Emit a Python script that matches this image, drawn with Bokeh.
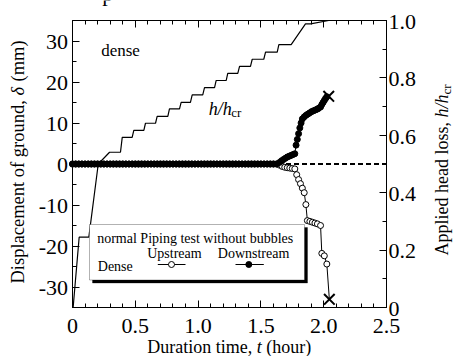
from math import pi

from bokeh.embed import file_html
from bokeh.models import (BoxAnnotation, CustomJSTickFormatter, Label, LinearAxis,
                          Range1d, SingleIntervalTicker)
from bokeh.plotting import figure
from bokeh.resources import INLINE

SERIF = "'Liberation Serif', 'Times New Roman', serif"

# ---- data -------------------------------------------------------------
# Logging times (hour) while the ground has not moved yet
still_t = [0.0, 0.025, 0.05, 0.075, 0.1, 0.125, 0.15, 0.175, 0.2, 0.225,
           0.25, 0.275, 0.3, 0.325, 0.35, 0.375, 0.4, 0.425, 0.45, 0.475,
           0.5, 0.525, 0.55, 0.575, 0.6, 0.625, 0.65, 0.675, 0.7, 0.725,
           0.75, 0.775, 0.8, 0.825, 0.85, 0.875, 0.9, 0.925, 0.95, 0.975,
           1.0, 1.025, 1.05, 1.075, 1.1, 1.125, 1.15, 1.175, 1.2, 1.225,
           1.25, 1.275, 1.3, 1.325, 1.35, 1.375, 1.4, 1.425, 1.45, 1.475,
           1.5, 1.525, 1.55, 1.575, 1.6, 1.625]
still_d = [0.0] * len(still_t)

# Upstream ground displacement (mm) once it starts to settle
up_tail_t = [1.65, 1.67, 1.69, 1.71, 1.73, 1.75, 1.77, 1.785, 1.80, 1.815,
             1.83, 1.845, 1.858, 1.87, 1.89, 1.91, 1.93, 1.95, 1.975, 1.985,
             2.005, 2.025]
up_tail_d = [-0.3, -0.6, -0.8, -0.9, -1.0, -1.1, -1.2, -2.6, -3.8, -4.8,
             -5.9, -7.0, -9.9, -13.8, -14.0, -14.2, -14.4, -14.6, -15.0, -21.8,
             -22.4, -24.4]
up_fail_t, up_fail_d = 2.045, -33.0

# Downstream ground displacement (mm) once it starts to heave
dn_tail_t = [1.65, 1.665, 1.68, 1.695, 1.71, 1.725, 1.74, 1.755, 1.77, 1.78,
             1.79, 1.80, 1.81, 1.82, 1.83, 1.845, 1.86, 1.875, 1.89, 1.905,
             1.92, 1.935, 1.95, 1.96, 1.975, 1.985, 1.995, 2.005, 2.015, 2.025]
dn_tail_d = [0.4, 0.8, 1.1, 1.4, 1.7, 1.9, 2.1, 2.3, 2.5, 4.6,
             6.0, 7.4, 8.8, 10.0, 11.0, 11.5, 11.9, 12.2, 12.5, 12.8,
             13.0, 13.2, 13.4, 13.6, 13.9, 14.5, 15.0, 15.5, 16.0, 16.4]
dn_fail_t, dn_fail_d = 2.04, 16.5

up_t = still_t + up_tail_t
up_d = still_d + up_tail_d
dn_t = still_t + dn_tail_t
dn_d = still_d + dn_tail_d

# Applied head loss ratio h/h_cr (right axis)
head_t = [0.005, 0.053, 0.13, 0.205, 0.295, 0.382, 0.396, 0.475, 0.488, 0.568,
          0.581, 0.661, 0.674, 0.759, 0.772, 0.852, 0.865, 0.939, 0.953, 1.037,
          1.051, 1.131, 1.144, 1.224, 1.236, 1.316, 1.330, 1.417, 1.431, 1.523,
          1.537, 1.630, 1.643, 1.741, 1.855, 1.895, 2.04]
head_v = [0.0, 0.245, 0.245, 0.50, 0.541, 0.541, 0.593, 0.593, 0.617, 0.617,
          0.642, 0.642, 0.666, 0.666, 0.692, 0.692, 0.715, 0.715, 0.741, 0.741,
          0.766, 0.766, 0.791, 0.791, 0.816, 0.816, 0.840, 0.840, 0.865, 0.865,
          0.890, 0.890, 0.916, 0.916, 0.988, 0.988, 1.0]

# Zero reference after the ground starts to move
ref_t = [1.70, 2.5]
ref_d = [0.0, 0.0]

# Tick values and their labels
t_ticks = [0.0, 0.5, 1.0, 1.5, 2.0, 2.5]
t_tick_text = ["0", "0.5", "1.0", "1.5", "2.0", "2.5"]
d_ticks = [-30, -20, -10, 0, 10, 20, 30]
d_tick_text = ["-30", "-20", "-10", "0", "10", "20", "30"]
r_ticks = [0.0, 0.2, 0.4, 0.6, 0.8, 1.0]
r_tick_text = ["0", "0.2", "0.4", "0.6", "0.8", "1.0"]

# axis limits
T_MIN, T_MAX = 0.0, 2.5
D_MIN, D_MAX = -35.0, 35.0
R_MIN, R_MAX = 0.0, 1.0

# ---- layout -----------------------------------------------------------
# The whole canvas is the drawing frame; the axes are pinned around the
# plot box so that titles and notes outside the box stay visible.
W, H = 453, 356
BL, BT, BW, BH = 72, 20, 314, 287          # plot box left/top/width/height (px)
LIFT = 0.28                                # baseline correction, in em


def tx(px):
    """canvas x pixel -> hour"""
    return T_MIN + (px - BL) * (T_MAX - T_MIN) / BW


def ty(py):
    """canvas y pixel -> mm"""
    return D_MAX - (py - BT) * (D_MAX - D_MIN) / BH


def tr(py):
    """canvas y pixel -> h/h_cr"""
    return R_MAX - (py - BT) * (R_MAX - R_MIN) / BH


p = figure(width=W, height=H,
           x_range=Range1d(tx(0), tx(W)), y_range=Range1d(ty(H), ty(0)),
           x_axis_type=None, y_axis_type=None,
           output_backend="svg", toolbar_location=None,
           min_border=0, min_border_left=0, min_border_right=0,
           min_border_top=0, min_border_bottom=0,
           background_fill_color="white", border_fill_color="white")
p.extra_y_ranges = {"head": Range1d(tr(H), tr(0))}
p.outline_line_color = None

no_text = CustomJSTickFormatter(code="return '';")


def style_axis(ax):
    ax.formatter = no_text
    ax.axis_line_color = "black"
    ax.axis_line_width = 1
    ax.major_tick_line_color = "black"
    ax.minor_tick_line_color = "black"
    ax.major_tick_in = 7
    ax.major_tick_out = 0
    ax.minor_tick_in = 4
    ax.minor_tick_out = 0
    ax.major_label_standoff = 0
    ax.major_label_text_font_size = "1px"


bottom = LinearAxis(ticker=SingleIntervalTicker(interval=0.5, num_minor_ticks=5),
                    fixed_location=D_MIN, bounds=(T_MIN, T_MAX))
top = LinearAxis(ticker=SingleIntervalTicker(interval=0.5, num_minor_ticks=5),
                 fixed_location=D_MAX, bounds=(T_MIN, T_MAX))
left = LinearAxis(ticker=SingleIntervalTicker(interval=10, num_minor_ticks=2),
                  fixed_location=T_MIN, bounds=(D_MIN, D_MAX))
right = LinearAxis(y_range_name="head",
                   ticker=SingleIntervalTicker(interval=0.2, num_minor_ticks=2),
                   fixed_location=T_MAX, bounds=(R_MIN, R_MAX))
for ax, side in ((bottom, "below"), (top, "above"), (left, "left"), (right, "right")):
    style_axis(ax)
    p.add_layout(ax, side)

# ---- marks ------------------------------------------------------------
p.line(head_t, head_v, y_range_name="head", line_color="black", line_width=1.2)
p.line(ref_t, ref_d, line_color="black", line_width=2, line_dash="5 3")

p.line(up_t + [up_fail_t], up_d + [up_fail_d], line_color="black", line_width=1)
p.scatter(up_t, up_d, marker="circle", size=6, fill_color="white",
          line_color="black", line_width=1)

p.line(dn_t + [dn_fail_t], dn_d + [dn_fail_d], line_color="black", line_width=1)
p.scatter(dn_t, dn_d, marker="circle", size=6, fill_color="black",
          line_color="black", line_width=1)

p.scatter([up_fail_t, dn_fail_t], [up_fail_d, dn_fail_d], marker="x", size=15,
          line_color="black", line_width=2)


def text(x, y, txt, size, style="normal", align="left", angle=0.0, range_name="default"):
    p.add_layout(Label(x=x, y=y, text=txt, text_font=SERIF,
                       text_font_size=f"{size}px", text_font_style=style,
                       text_align=align, text_baseline="alphabetic",
                       text_color="black", angle=angle, y_range_name=range_name))


def label(px, py, txt, size, style="normal", align="left", vertical=False):
    """Text whose alphabetic baseline starts at canvas pixel (px, py)."""
    lift = LIFT * size
    if vertical:
        text(tx(px - lift), ty(py), txt, size, style, align, angle=pi / 2)
    else:
        text(tx(px), ty(py - lift), txt, size, style, align)


# tick labels (digits sit about half their height below the tick)
TICK = 22
drop = 0.34 * TICK - LIFT * TICK           # pixels from tick to corrected baseline
for v, s in zip(t_ticks, t_tick_text):
    text(v, ty(332 - LIFT * TICK), s, TICK, align="center")
for v, s in zip(d_ticks, d_tick_text):
    text(tx(67.5), v - drop * (D_MAX - D_MIN) / BH, s, TICK, align="right")
for v, s in zip(r_ticks, r_tick_text):
    text(tx(388), v - drop * (R_MAX - R_MIN) / BH, s, TICK, range_name="head")

# in-plot annotations
label(100.7, 55, "dense", 17)
label(208.3, 113.3, "h/h", 18, style="italic")
label(230.7, 116, "cr", 13)

# legend box with drop shadow
p.add_layout(BoxAnnotation(left=tx(92), right=tx(307), top=ty(227), bottom=ty(282.5),
                           fill_color="black", fill_alpha=1, line_color="black"))
p.add_layout(BoxAnnotation(left=tx(89), right=tx(304), top=ty(224), bottom=ty(279.5),
                           fill_color="white", fill_alpha=1, line_color="black",
                           line_width=1))
label(96.7, 242, "normal Piping test without bubbles", 14)
label(146.7, 256.7, "Upstream", 14)
label(217.3, 256.7, "Downstream", 14)
label(97.3, 270, "Dense", 14)
p.line([tx(157.3), tx(185)], [ty(264), ty(264)], line_color="black", line_width=1,
       level="overlay")
p.scatter([tx(171)], [ty(264)], marker="circle", size=6, fill_color="white",
          line_color="black", level="overlay")
p.line([tx(235), tx(263.3)], [ty(264), ty(264)], line_color="black", line_width=1,
       level="overlay")
p.scatter([tx(248.3)], [ty(264)], marker="circle", size=6, fill_color="black",
          line_color="black", level="overlay")

# axis titles
label(251.7, 351.5, "Duration time,", 18, align="right")
label(258.7, 351.5, "t", 18, style="italic", align="center")
label(265.7, 351.5, "(hour)", 18)

label(23, 283, "Displacement of ground,", 18.5, vertical=True)
label(23, 95, "\u03b4", 18.5, style="italic", vertical=True)
label(23, 81, "(mm)", 18.5, vertical=True)

label(447, 255, "Applied head loss,", 18, vertical=True)
label(447, 117, "h/h", 18, style="italic", vertical=True)
label(450, 94, "cr", 13, vertical=True)

# descender of the caption line above
label(101.7, -1.3, "p", 22)

open("out.html", "w").write(file_html(p, INLINE))
